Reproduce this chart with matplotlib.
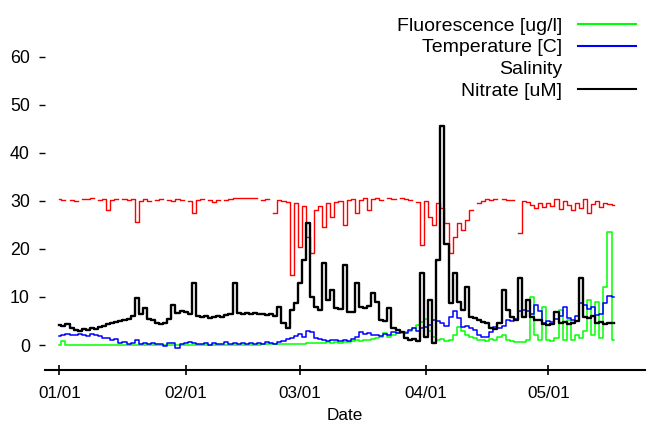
import numpy as np
import pandas as pd
import matplotlib
matplotlib.use('Agg')
import matplotlib.pyplot as plt
import matplotlib.dates as mdates
from matplotlib.lines import Line2D

# daily readings, starting 01/01
start_date = '2009-01-01'
nan = np.nan

nitrate = [4.2, 4.0, 4.4, 3.6, 3.1, 3.0, 3.3, 3.2, 3.6, 3.4,
           3.8, 4.0, 4.4, 4.6, 4.8, 5.0, 5.2, 5.4, 6.0, 9.8,
           6.5, 7.7, 5.5, 5.2, 4.6, 4.4, 4.6, 5.5, 8.3, 6.7,
           7.0, 6.9, 6.5, 12.9, 6.0, 5.8, 6.0, 5.6, 5.8, 6.0,
           5.8, 6.2, 6.4, 12.9, 6.6, 6.4, 6.7, 6.5, 6.6, 6.4,
           6.5, 6.3, 6.4, 6.0, 8.0, 4.5, 3.5, 7.3, 8.7, 13.0,
           17.7, 25.4, 10.0, 8.0, 7.3, 17.0, 9.4, 11.5, 7.7, 7.5,
           16.7, 6.9, 6.9, 12.9, 7.9, 7.6, 8.2, 10.8, 9.0, 5.2,
           5.0, 7.7, 3.5, 3.1, 2.8, 1.5, 1.0, 1.2, 0.8, 15.0,
           1.7, 9.4, 0.5, 17.7, 45.5, 21.0, 8.7, 15.0, 9.0, 7.3,
           12.0, 5.8, 5.6, 5.2, 4.8, 4.6, 3.6, 3.3, 4.6, 11.5,
           7.3, 5.8, 5.2, 14.0, 5.8, 9.4, 5.8, 5.2, 5.2, 4.4,
           4.2, 4.4, 6.9, 4.6, 4.8, 4.4, 4.6, 5.0, 14.0, 5.8,
           5.6, 6.0, 4.6, 4.8, 4.4, 4.6, 4.6]

fluorescence = [0.1, 0.9, 0.1, 0.1, 0.1, 0.1, 0.1, 0.1, 0.1, 0.1,
                0.1, 0.1, 0.1, 0.1, 0.1, 0.1, 0.1, 0.1, 0.1, 0.1,
                0.1, 0.1, 0.1, 0.1, 0.1, 0.1, 0.1, 0.1, 0.1, 0.1,
                0.1, 0.1, 0.1, 0.1, 0.1, 0.1, 0.1, 0.1, 0.1, 0.1,
                0.1, 0.1, 0.1, 0.1, 0.1, 0.1, 0.1, 0.1, 0.1, 0.1,
                0.2, 0.2, 0.2, 0.2, 0.2, 0.2, 0.3, 0.2, 0.3, 0.3,
                0.3, 0.4, 0.4, 0.5, 0.4, 0.5, 0.6, 0.5, 0.6, 0.5,
                0.6, 0.7, 0.9, 1.0, 0.8, 1.1, 1.0, 1.2, 1.4, 1.7,
                2.5, 1.6, 2.0, 2.4, 2.6, 2.8, 3.0, 3.6, 4.2, 4.8,
                5.5, 3.0, 1.7, 1.0, 1.2, 0.9, 1.0, 2.0, 3.8, 3.0,
                2.0, 1.7, 1.5, 1.0, 1.0, 0.8, 1.2, 1.0, 1.7, 2.0,
                1.0, 0.8, 0.7, 0.6, 0.7, 1.0, 10.0, 2.0, 1.0, 8.0,
                1.0, 0.8, 1.5, 7.3, 1.0, 5.2, 1.0, 2.0, 1.5, 3.0,
                9.4, 2.0, 9.0, 1.5, 12.0, 23.5, 1.0]

temperature = [1.8, 2.0, 2.2, 2.0, 2.1, 2.3, 2.0, 1.9, 2.2, 2.0,
               1.8, 1.5, 1.4, 1.0, 1.2, 0.4, 0.6, 0.3, 0.5, 1.0,
               0.2, 0.5, 0.3, 0.4, 0.2, 0.3, -0.3, 0.4, 0.5, -0.6,
               0.2, 0.5, 0.6, 0.4, 0.3, 0.2, 0.4, 0.1, 0.5, 0.3,
               0.2, 0.6, 0.2, 0.4, 0.3, 0.5, 0.2, 0.4, 0.3, 0.5,
               0.2, 0.6, 0.4, 0.3, 0.7, 0.9, 1.2, 1.4, 1.8, 2.2,
               1.6, 3.0, 2.7, 1.5, 1.2, 1.0, 0.9, 1.1, 1.0, 0.8,
               1.0, 0.9, 1.2, 1.6, 2.7, 2.2, 2.6, 2.0, 2.1, 1.9,
               2.3, 2.0, 2.7, 2.5, 2.8, 2.6, 3.2, 3.5, 3.0, 3.6,
               3.8, 4.2, 5.2, 5.0, 4.6, 4.0, 5.8, 7.0, 5.6, 3.8,
               4.0, 3.6, 3.2, 2.0, 1.7, 1.6, 2.8, 3.8, 3.5, 4.0,
               5.2, 5.0, 5.5, 7.0, 7.3, 7.0, 6.5, 8.3, 7.0, 4.6,
               5.0, 4.8, 5.5, 6.0, 8.0, 5.6, 5.2, 6.0, 8.7, 8.3,
               7.5, 8.0, 6.2, 6.5, 8.7, 10.2, 10.0]

salinity = [30.3, 30.1, nan, 30.2, 30.0, nan, 30.4, 30.3, 30.5, nan,
            30.2, 30.4, 28.0, 30.2, 30.3, nan, 30.4, 30.1, 30.3, 25.6,
            30.0, 30.4, 30.0, nan, 30.1, 30.3, nan, 30.2, 30.0, 30.3,
            30.2, nan, 30.0, 27.5, 30.1, 30.3, nan, 30.2, 29.8, 30.1,
            nan, 30.2, 30.4, 30.5, 30.6, 30.6, 30.5, 30.7, 30.6, nan,
            30.2, 30.3, nan, 27.5, 30.2, 30.0, 29.8, 14.6, 29.5, 20.4,
            29.0, 22.5, 19.2, 28.0, 29.0, 24.6, 29.5, 26.7, 29.8, 30.0,
            25.0, 30.1, 30.4, 27.5, 30.2, 30.5, 28.0, 30.3, 30.5, 30.2,
            nan, 30.6, 30.4, nan, 30.5, 30.3, 30.1, nan, 29.8, 20.8,
            30.0, 26.7, 25.0, 29.5, 28.5, 25.4, 19.2, 22.5, 25.4, 24.0,
            26.0, 28.0, nan, 29.5, 30.0, 30.3, 30.2, 30.4, nan, 30.3,
            30.1, 30.2, nan, 23.3, 30.0, 29.8, 29.2, 28.6, 29.5, 28.8,
            29.6, 29.0, 30.3, 28.3, 30.0, 29.2, 28.0, 29.5, 28.5, 30.4,
            27.5, 29.3, 30.0, 28.8, 29.6, 29.4, 29.2]

dates = pd.date_range(start_date, periods=len(nitrate), freq='D')

plt.rcParams['font.family'] = ['Liberation Sans', 'DejaVu Sans']

fig = plt.figure(figsize=(6.53, 4.26), dpi=100)
ax = fig.add_axes([0.069, 0.1315, 0.9187, 0.848])

ax.plot(dates, fluorescence, color='#00ff00', lw=1.1, drawstyle='steps-mid')
ax.plot(dates, temperature, color='#0000ff', lw=1.1, drawstyle='steps-mid')
ax.plot(dates, salinity, color='#ff0000', lw=1.0, drawstyle='steps-mid')
ax.plot(dates, nitrate, color='black', lw=1.7, drawstyle='steps-mid')

handles = [Line2D([], [], color='#00ff00', lw=1.5),
           Line2D([], [], color='#0000ff', lw=1.5),
           Line2D([], [], color='none', lw=1.5),
           Line2D([], [], color='black', lw=1.5)]
labels = ['Fluorescence [ug/l]', 'Temperature [C]', 'Salinity', 'Nitrate [uM]']
ax.legend(handles, labels, loc='upper right', bbox_to_anchor=(1.008, 1.015),
          frameon=False, markerfirst=False, fontsize=14.0, handlelength=3.0,
          handletextpad=0.8, labelspacing=0.22, borderpad=0.2)

ax.set_xlim(pd.Timestamp('2009-01-01') - pd.Timedelta(days=3.5),
            pd.Timestamp('2009-01-01') + pd.Timedelta(days=143.7))
ax.set_ylim(-5.2, 70)
ax.set_yticks(range(0, 61, 10))
ax.xaxis.set_major_locator(mdates.MonthLocator())
ax.xaxis.set_major_formatter(mdates.DateFormatter('%m/%d'))

for s in ['top', 'right', 'left']:
    ax.spines[s].set_visible(False)
ax.spines['bottom'].set_linewidth(1.5)
ax.tick_params(axis='x', direction='inout', length=7, width=1.2, labelsize=12.3, pad=8)
ax.tick_params(axis='y', direction='out', length=4, width=1.0, labelsize=12.8, pad=7)
ax.set_xlabel('Date', fontsize=12.3, labelpad=5)

fig.savefig('out.png', dpi=100)
